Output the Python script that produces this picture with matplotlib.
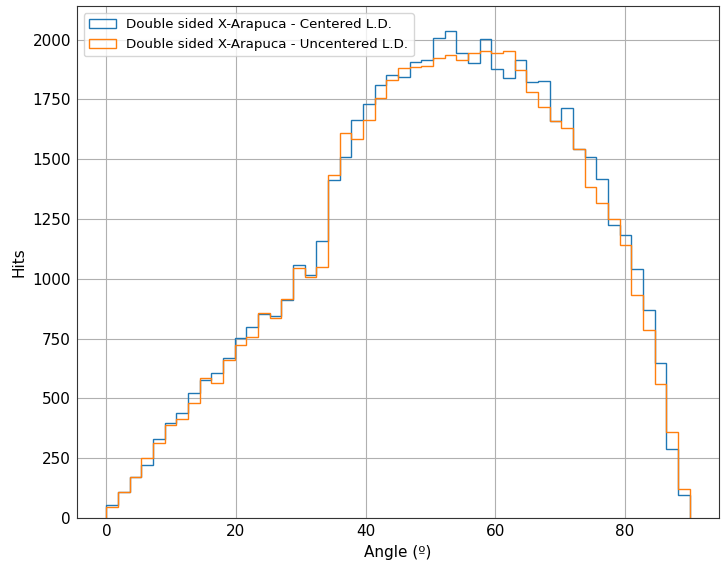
import numpy as np
import matplotlib.pyplot as plt

# 50 bins between 0 and 90 degrees
bin_edges = np.linspace(0, 90, 51)

hits_centered = [54, 110, 170, 222, 329, 396, 440, 524, 577, 605,
                 670, 751, 797, 851, 845, 911, 1057, 1016, 1158, 1413,
                 1508, 1665, 1731, 1810, 1853, 1842, 1905, 1915, 2005, 2038,
                 1944, 1901, 2003, 1877, 1840, 1915, 1822, 1826, 1661, 1714,
                 1543, 1508, 1417, 1226, 1184, 1040, 869, 650, 287, 95]
hits_uncentered = [45, 110, 170, 250, 312, 389, 413, 482, 584, 566,
                   660, 723, 758, 856, 835, 914, 1044, 1009, 1050, 1435,
                   1608, 1584, 1664, 1755, 1831, 1880, 1884, 1891, 1923, 1937,
                   1915, 1944, 1951, 1944, 1954, 1873, 1780, 1720, 1660, 1630,
                   1543, 1382, 1317, 1252, 1141, 932, 787, 559, 360, 123]

labels = ['Double sided X-Arapuca - Centered L.D.',
          'Double sided X-Arapuca - Uncentered L.D.']

centers = (bin_edges[:-1] + bin_edges[1:]) / 2

fig = plt.figure(figsize=(7.21, 5.63), dpi=100)
ax = fig.add_axes([0.107, 0.080, 0.890, 0.909])

ax.hist(centers, bins=bin_edges, weights=hits_centered, histtype='step', label=labels[0])
ax.hist(centers, bins=bin_edges, weights=hits_uncentered, histtype='step', label=labels[1])

ax.grid(True)
ax.set_axisbelow(True)
ax.tick_params(labelsize=11, length=0, pad=4.5)
for s in ax.spines.values():
    s.set_color('#333333')
ax.set_xlabel('Angle (º)', fontsize=11)
ax.set_ylabel('Hits', fontsize=11)
ax.legend(loc='upper left', fontsize=9.6)

plt.savefig('out.png', dpi=100)
